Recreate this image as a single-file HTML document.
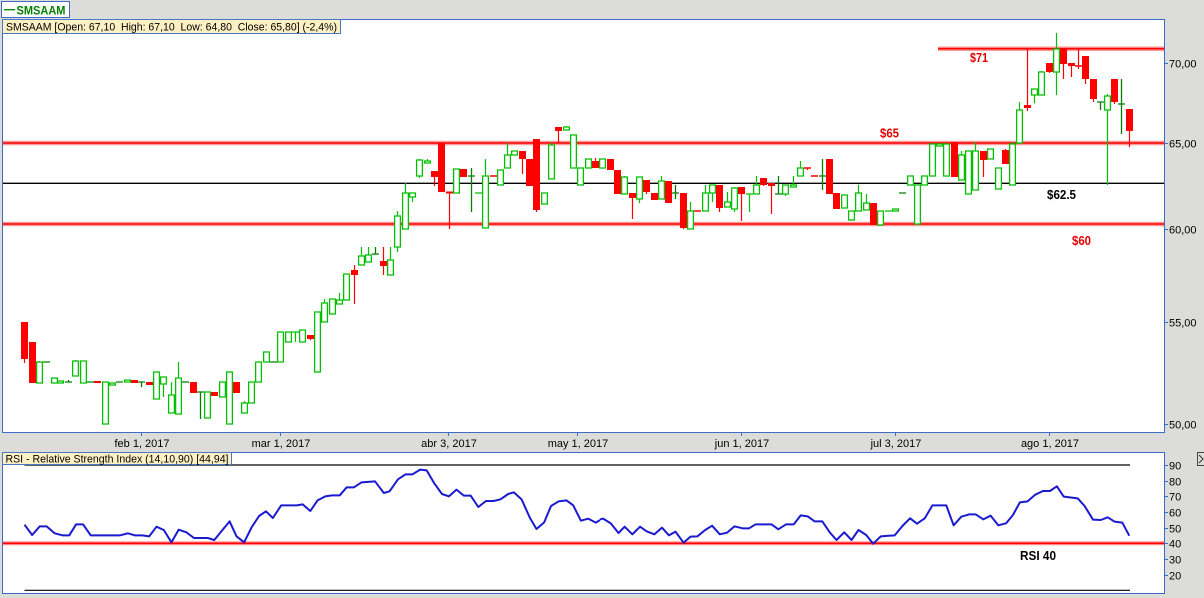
<!DOCTYPE html>
<html><head><meta charset="utf-8"><style>
html,body{margin:0;padding:0;background:#dcdddb;width:1204px;height:598px;overflow:hidden}
svg{display:block}
text{font-family:"Liberation Sans",Arial,sans-serif}
</style></head><body>
<svg width="1204" height="598" viewBox="0 0 1204 598" xmlns="http://www.w3.org/2000/svg">
<rect x="0" y="0" width="1204" height="598" fill="#dcdddb"/>
<rect x="1.5" y="1.5" width="68" height="16" fill="#fff" stroke="#3b6cc6"/>
<path d="M4 9.7H15" stroke="#008000" stroke-width="1.3"/>
<text x="16.5" y="14.3" font-size="12" font-weight="bold" fill="#008000" textLength="49" lengthAdjust="spacingAndGlyphs">SMSAAM</text>

<rect x="2.5" y="19.5" width="1162" height="413" fill="#fff" stroke="#3b6cc6"/>
<path d="M3 143H1164M3 224H1164M938 48.7H1164" stroke="#ff9a9a" stroke-width="4.5" fill="none"/>
<path d="M3 143H1164M3 224H1164M938 48.7H1164" stroke="#f00" stroke-width="1.6" fill="none"/>
<path d="M3 183.3H1164" stroke="#000" stroke-width="1.4"/>

<path fill="none" stroke="#f00" stroke-width="1.2" d="M24.5 322V363M310.5 335V340M354.5 265V304M383.5 247V275M434.5 171V186M449.5 192V229M522.5 151V174M536.5 139V212M558.5 127V143M595.5 158V168M632.5 193V219M646.5 180V194M683.5 193V229M719.5 185V212M741.5 187V221M763.5 178V186M771.5 183V214M807.5 168V170M983.5 151V177M1005.5 149V164M1027.5 49V111M1049.5 63V73M1063.5 49V79M1071.5 63V77M1078.5 49V69M1085.5 56V84M1093.5 79V102M1114.5 79V104M1129.5 109V147"/>
<path fill="none" stroke="#00c000" stroke-width="1.2" d="M39.5 361V363M75.5 360V362M163.5 384V397M171.5 382V395M178.5 362V378M244.5 401V403M324.5 299V303M339.5 293V300M361.5 247V256M368.5 247V255M390.5 247V260M397.5 211V252M405.5 183V193M412.5 197V202M419.5 159V178M427.5 159V161M485.5 159V176M507.5 143V155M551.5 143V145M566.5 126V127M624.5 176V177M639.5 199V203M661.5 176V181M690.5 202V211M705.5 185V193M712.5 193V202M727.5 192V202M734.5 187V212M749.5 194V212M756.5 176V185M785.5 194V196M793.5 176V185M800.5 161V168M858.5 185V193M866.5 194V203M961.5 151V155M975.5 142V151M1012.5 142V144M1019.5 102V110M1034.5 95V103M1041.5 71V72M1056.5 33V95M1107.5 94V185M295.5 332V342M746 194h7M885 211h7M475 193h7M292 332h7"/>
<path fill="none" stroke="#008000" stroke-width="1.3" d="M43 362h7M65 382h7M68.5 380V382M87 382h7M116 382h7M138 382h7M141.5 382V387M182 382h7M197 392h7M200.5 392V419M270 362h7M372 254h7M375.5 247V254M468 176h7M471.5 168V212M672 193h7M675.5 185V199M775 194h7M778.5 176V194M819 176h7M822.5 159V190M899 193h7M1097 102h7M1100.5 102V110M1118 104h7M1121.5 79V134"/>
<path fill="none" stroke="#f00" stroke-width="1.6" d="M490 176h7M694 211h7M804 168h7M811 176h7M1075 66h7"/>

<path fill="#f00" d="M21 322h7V359h-7zM29 342h7V383h-7zM94 381h7V383h-7zM131 380h7V383h-7zM146 382h7V385h-7zM190 382h7V393h-7zM211 392h7V396h-7zM233 382h7V393h-7zM307 335h7V339h-7zM351 270h7V275h-7zM380 261h7V266h-7zM431 171h7V177h-7zM438 143h7V192h-7zM446 191.5h7V193.5h-7zM460 169h7V177h-7zM519 151h7V159h-7zM526 159h7V186h-7zM533 139h7V210h-7zM555 127h7V131h-7zM592 161h7V168h-7zM607 159h7V170h-7zM614 170h7V194h-7zM629 193h7V198h-7zM643 180h7V192h-7zM651 193h7V200h-7zM665 181h7V203h-7zM680 193h7V228h-7zM716 185h7V208h-7zM738 187h7V194h-7zM760 178h7V185h-7zM768 183h7V186h-7zM826 159h7V194h-7zM833 193h7V209h-7zM870 203h7V225h-7zM951 142h7V177h-7zM980 151h7V160h-7zM1002 150h7V164h-7zM1024 105h7V108h-7zM1046 63h7V72h-7zM1060 49h7V64h-7zM1068 63h7V66h-7zM1082 56h7V79h-7zM1090 79h7V99h-7zM1111 79h7V102h-7zM1126 109h7V131h-7z"/>

<path fill="#fff" stroke="#00c000" stroke-width="1.3" d="M36.6 362h5.8V383h-5.8zM51.6 378h5.8V383h-5.8zM57.6 381h5.8V383h-5.8zM72.6 361h5.8V376h-5.8zM80.6 361h5.8V383h-5.8zM102.6 382h5.8V424h-5.8zM109.6 383h5.8V385h-5.8zM124.6 380h5.8V382h-5.8zM153.6 372h5.8V399h-5.8zM160.6 377h5.8V384h-5.8zM168.6 395h5.8V413h-5.8zM175.6 378h5.8V414h-5.8zM204.6 392h5.8V418h-5.8zM219.6 382h5.8V397h-5.8zM226.6 372h5.8V424h-5.8zM241.6 403h5.8V413h-5.8zM248.6 382h5.8V403h-5.8zM255.6 362h5.8V382h-5.8zM263.6 352h5.8V362h-5.8zM277.6 332h5.8V362h-5.8zM285.6 332h5.8V342h-5.8zM299.6 330h5.8V342h-5.8zM314.6 312h5.8V372h-5.8zM321.6 303h5.8V322h-5.8zM329.6 299h5.8V314h-5.8zM336.6 300h5.8V304h-5.8zM343.6 274h5.8V300h-5.8zM358.6 256h5.8V265h-5.8zM365.6 255h5.8V262h-5.8zM387.6 260h5.8V275h-5.8zM394.6 216h5.8V247h-5.8zM402.6 193h5.8V229h-5.8zM409.6 193h5.8V197h-5.8zM416.6 160h5.8V176h-5.8zM424.6 161h5.8V163h-5.8zM453.6 169h5.8V193h-5.8zM482.6 176h5.8V228h-5.8zM497.6 170h5.8V185h-5.8zM504.6 155h5.8V168h-5.8zM511.6 151h5.8V155h-5.8zM541.6 193h5.8V204h-5.8zM548.6 145h5.8V179h-5.8zM563.6 127h5.8V130h-5.8zM570.6 135h5.8V168h-5.8zM577.6 168h5.8V185h-5.8zM585.6 159h5.8V168h-5.8zM599.6 159h5.8V168h-5.8zM621.6 177h5.8V194h-5.8zM636.6 177h5.8V199h-5.8zM658.6 181h5.8V199h-5.8zM687.6 211h5.8V229h-5.8zM702.6 193h5.8V211h-5.8zM709.6 185h5.8V193h-5.8zM724.6 202h5.8V207h-5.8zM731.6 188h5.8V209h-5.8zM753.6 185h5.8V194h-5.8zM782.6 185h5.8V194h-5.8zM790.6 185h5.8V187h-5.8zM797.6 168h5.8V176h-5.8zM841.6 195h5.8V208h-5.8zM848.6 211h5.8V220h-5.8zM855.6 193h5.8V211h-5.8zM863.6 203h5.8V210h-5.8zM877.6 211h5.8V225h-5.8zM892.6 209h5.8V211h-5.8zM907.6 176h5.8V185h-5.8zM914.6 185h5.8V224h-5.8zM921.6 176h5.8V185h-5.8zM929.6 144h5.8V176h-5.8zM936.6 144h5.8V146h-5.8zM943.6 144h5.8V176h-5.8zM958.6 155h5.8V180h-5.8zM965.6 151h5.8V194h-5.8zM972.6 151h5.8V190h-5.8zM987.6 149h5.8V159h-5.8zM995.6 168h5.8V189h-5.8zM1009.6 144h5.8V185h-5.8zM1016.6 110h5.8V143h-5.8zM1031.6 89h5.8V95h-5.8zM1038.6 72h5.8V95h-5.8zM1053.6 49h5.8V72h-5.8zM1104.6 96h5.8V110h-5.8z"/>

<g font-size="12.5" font-weight="bold">
<text x="970" y="62" fill="#e00000" textLength="18" lengthAdjust="spacingAndGlyphs">$71</text>
<text x="880" y="137.7" fill="#e00000" textLength="19" lengthAdjust="spacingAndGlyphs">$65</text>
<text x="1047" y="199" fill="#000" textLength="29" lengthAdjust="spacingAndGlyphs">$62.5</text>
<text x="1072" y="245" fill="#e00000" textLength="19" lengthAdjust="spacingAndGlyphs">$60</text>
</g>

<rect x="2.5" y="19.5" width="338" height="14" fill="#fdf1c4" stroke="#4a78c8"/>
<text x="6" y="30.5" font-size="11" fill="#000" style="white-space:pre" textLength="331" lengthAdjust="spacingAndGlyphs">SMSAAM [Open: 67,10  High: 67,10  Low: 64,80  Close: 65,80] (-2,4%)</text>

<path fill="none" stroke="#3b6cc6" stroke-width="1" d="M1164 63.5h4M1164 143.5h4M1164 229.5h4M1164 322.5h4M1164 424.5h4M141.5 432v4M280.5 432v4M448.5 432v4M577.5 432v4M741.5 432v4M895.5 432v4M1049.5 432v4"/>
<g font-size="11" fill="#000">
<text x="1169" y="67.5">70,00</text>
<text x="1169" y="147.5">65,00</text>
<text x="1169" y="233.5">60,00</text>
<text x="1169" y="326.5">55,00</text>
<text x="1169" y="428.5">50,00</text>
</g>
<g font-size="11" fill="#000" text-anchor="middle">
<text x="142" y="447">feb 1, 2017</text>
<text x="281" y="447">mar 1, 2017</text>
<text x="449" y="447">abr 3, 2017</text>
<text x="578" y="447">may 1, 2017</text>
<text x="742" y="447">jun 1, 2017</text>
<text x="896" y="447">jul 3, 2017</text>
<text x="1050" y="447">ago 1, 2017</text>
</g>

<rect x="2.5" y="452.5" width="1162" height="141" fill="#fff" stroke="#3b6cc6"/>
<path d="M24.5 465H1130M24.5 590.3H1130" stroke="#000" stroke-width="1.2"/>
<path d="M3 543.3H1164" stroke="#ff9a9a" stroke-width="4"/>
<path d="M3 543.3H1164" stroke="#f00" stroke-width="1.6"/>
<g fill="none" stroke="#1a1ad0" stroke-width="2" stroke-linejoin="round">
<polyline vector-effect="non-scaling-stroke" transform="matrix(0.38266,0,0,0.33333,0,420)" points="64,314 84,345 104,319 122,319 143,340 163,346 181,346 199,313 217,313 237,346 255,346 314,346 334,340 352,346 372,346 390,349 409,320 428,330 448,367 467,329 487,337 507,354 543,354 560,360 580,332 600,304 618,349 638,367 658,321 677,288 695,274 713,294 735,256 775,256 791,253 811,273 830,241 850,229 868,226 888,226 906,202 925,202 945,187 980,184 1003,219 1018,214 1040,178 1060,163 1078,163 1098,149 1115,151 1135,190 1155,222 1173,229 1193,209 1212,227 1230,227 1250,261 1270,243 1290,243 1308,238 1328,222 1343,217 1363,238 1385,294 1402,327 1422,307 1440,258 1460,244 1480,241 1498,256 1518,302 1537,296 1557,308 1568,300"/>
<polyline vector-effect="non-scaling-stroke" transform="matrix(0.38521,0,0,0.33333,600,420)" points="0,298 8,296 28,310 48,339 64,320 84,343 104,320 121,334 141,343 161,323 179,346 196,335 217,368 235,350 253,349 273,330 291,317 311,343 330,338 349,319 370,325 387,325 404,313 445,313 463,328 483,313 503,313 521,286 539,289 557,304 577,304 597,338 614,360 634,337 653,360 671,330 691,345 709,371 729,349 765,346 785,318 805,295 823,311 843,295 863,256 899,256 918,316 938,290 959,283 975,283 995,298 1014,287 1034,316 1054,310 1072,285 1090,247 1110,244 1130,224 1150,213 1168,213 1186,199 1204,230 1240,235 1258,258 1280,299 1300,300 1318,292 1336,305 1356,308 1374,347"/>
</g>
<text x="1020" y="560" font-size="12.5" font-weight="bold" fill="#000" textLength="36" lengthAdjust="spacingAndGlyphs">RSI 40</text>

<rect x="2.5" y="452.5" width="229" height="12" fill="#fdf1c4" stroke="#4a78c8"/>
<text x="5.5" y="462.3" font-size="11" fill="#000" textLength="223" lengthAdjust="spacingAndGlyphs">RSI - Relative Strength Index (14,10,90) [44,94]</text>

<path fill="none" stroke="#3b6cc6" stroke-width="1" d="M1164 465.5h4M1164 481.5h4M1164 496.5h4M1164 512.5h4M1164 528.5h4M1164 543.5h4M1164 559.5h4M1164 575.5h4"/>
<g font-size="11" fill="#000">
<text x="1169" y="469.5">90</text>
<text x="1169" y="485.5">80</text>
<text x="1169" y="500.5">70</text>
<text x="1169" y="516.5">60</text>
<text x="1169" y="532.5">50</text>
<text x="1169" y="547.5">40</text>
<text x="1169" y="563.5">30</text>
<text x="1169" y="579.5">20</text>
</g>
<rect x="1197.5" y="452.5" width="8" height="13" fill="#dcdddb" stroke="#444"/>
<path d="M1199 455L1203 459L1199 463" fill="none" stroke="#333" stroke-width="1"/>
</svg>
</body></html>
